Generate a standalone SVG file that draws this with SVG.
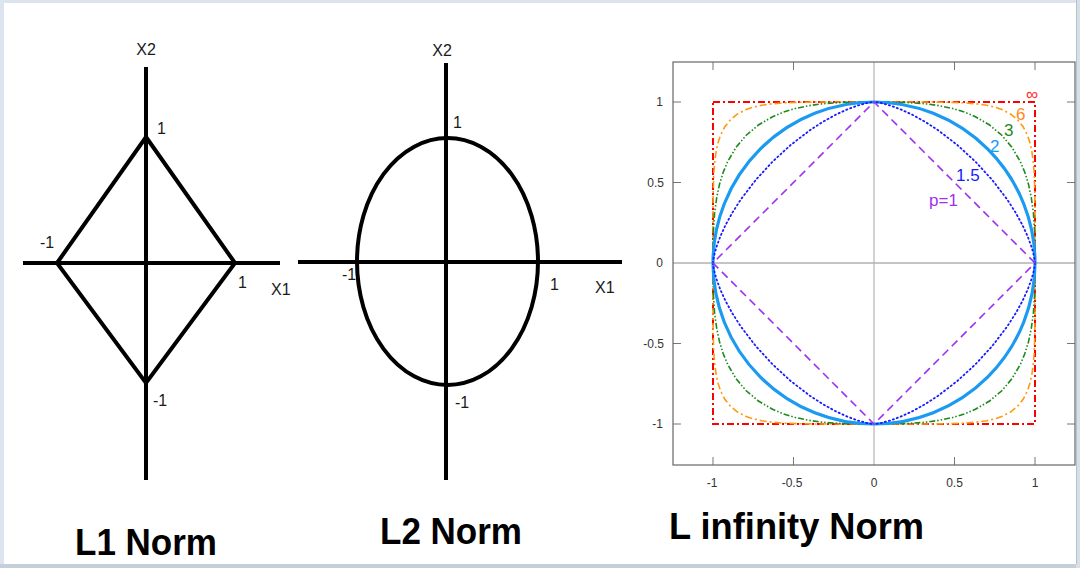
<svg xmlns="http://www.w3.org/2000/svg" xmlns:xlink="http://www.w3.org/1999/xlink" width="1080" height="568" viewBox="0 0 1080 568">
<style>
.ax{stroke:#000;stroke-width:4;fill:none}
.lbl{font-family:"Liberation Sans","DejaVu Sans",sans-serif;font-size:16px;fill:#1a1a1a}
.title{font-family:"Liberation Sans","DejaVu Sans",sans-serif;font-size:37px;font-weight:bold;fill:#000}
.tick{font-family:"Liberation Sans","DejaVu Sans",sans-serif;font-size:12px;fill:#333}
.frame{stroke:#666;stroke-width:1.2;fill:none}
.tk{stroke:#777;stroke-width:1}
.clbl{font-family:"Liberation Sans","DejaVu Sans",sans-serif;font-size:17px}
.c{fill:none}
</style>
<defs>
<polyline id="q6" class="c" points="161,0 161,-41.8 161,-52.6 160.8,-71.4 160.2,-89.8 159.1,-102.6 157.7,-112.6 155.8,-120.8 153.5,-127.8 149,-136.5 143.4,-143.4 136.5,-149 127.8,-153.5 120.8,-155.8 112.6,-157.7 102.6,-159.1 89.8,-160.2 71.4,-160.8 52.6,-161 41.8,-161 0,-161"/>
<polyline id="q3" class="c" points="161,0 160.9,-17.2 160.6,-31.7 159.4,-50.1 157.3,-65.4 154.5,-78.7 150.8,-90.7 146.3,-101.4 138,-115.6 127.8,-127.8 115.6,-138 101.4,-146.3 90.7,-150.8 78.7,-154.5 65.4,-157.3 50.1,-159.4 31.7,-160.6 17.2,-160.9 0,-161"/>
<polyline id="q15" class="c" points="161,0 160.9,-1.8 160.2,-6.2 157.7,-15.6 153.7,-26.6 148.2,-38.5 141.2,-51.1 132.9,-63.9 118.2,-83.1 101.4,-101.4 83.1,-118.2 63.9,-132.9 51.1,-141.2 38.5,-148.2 26.6,-153.7 15.6,-157.7 6.2,-160.2 1.8,-160.9 0,-161"/>
</defs>
<rect x="0" y="0" width="1080" height="568" fill="#ffffff"/>
<rect x="0" y="0" width="1080" height="3" fill="#dce4ef"/>
<rect x="0" y="0" width="4" height="568" fill="#dce4ef"/>
<rect x="0" y="564" width="1080" height="4" fill="#c6ced9"/>
<rect x="1076" y="0" width="4" height="568" fill="#d8dfe8"/>
<line x1="1076.5" y1="0" x2="1076.5" y2="564" stroke="#b8c0cb" stroke-width="1"/>

<g id="connectors"></g>

<g id="l1-norm">
<line class="ax" x1="146" y1="67" x2="146" y2="480"/>
<line class="ax" x1="23" y1="263" x2="280" y2="263"/>
<polygon class="ax" points="146,137 235,263 146,383 57,263" stroke-linejoin="miter"/>
<text class="lbl" x="146" y="55" text-anchor="middle">X2</text>
<text class="lbl" x="157" y="134">1</text>
<text class="lbl" x="40" y="248">-1</text>
<text class="lbl" x="238" y="288">1</text>
<text class="lbl" x="271" y="295">X1</text>
<text class="lbl" x="153" y="406">-1</text>
<text class="title" x="75" y="555" textLength="142" lengthAdjust="spacingAndGlyphs">L1 Norm</text>
</g>

<g id="l2-norm">
<line class="ax" x1="446" y1="63" x2="446" y2="480"/>
<line class="ax" x1="298" y1="262" x2="622" y2="262"/>
<ellipse class="ax" cx="447.5" cy="261.5" rx="90.5" ry="123.5"/>
<text class="lbl" x="442" y="56" text-anchor="middle">X2</text>
<text class="lbl" x="453" y="128">1</text>
<text class="lbl" x="342" y="280">-1</text>
<text class="lbl" x="550" y="290">1</text>
<text class="lbl" x="595" y="293">X1</text>
<text class="lbl" x="455" y="408">-1</text>
<text class="title" x="380" y="544" textLength="142" lengthAdjust="spacingAndGlyphs">L2 Norm</text>
</g>

<g id="linf-norm">
<line x1="673" y1="263" x2="1075" y2="263" stroke="#8a8a8a" stroke-width="1"/>
<line x1="874" y1="62" x2="874" y2="465" stroke="#b4b4b4" stroke-width="1.2"/>
<g class="tk">
<line x1="713" y1="62" x2="713" y2="70"/><line x1="793.5" y1="62" x2="793.5" y2="70"/><line x1="954.5" y1="62" x2="954.5" y2="70"/><line x1="1035" y1="62" x2="1035" y2="70"/>
<line x1="713" y1="465" x2="713" y2="457"/><line x1="793.5" y1="465" x2="793.5" y2="457"/><line x1="954.5" y1="465" x2="954.5" y2="457"/><line x1="1035" y1="465" x2="1035" y2="457"/>
<line x1="673" y1="102" x2="681" y2="102"/><line x1="673" y1="182.5" x2="681" y2="182.5"/><line x1="673" y1="343.5" x2="681" y2="343.5"/><line x1="673" y1="424" x2="681" y2="424"/>
<line x1="1075" y1="102" x2="1067" y2="102"/><line x1="1075" y1="182.5" x2="1067" y2="182.5"/><line x1="1075" y1="343.5" x2="1067" y2="343.5"/><line x1="1075" y1="424" x2="1067" y2="424"/>
</g>
<rect class="frame" x="673" y="62" width="402" height="403"/>
<g text-anchor="end">
<text class="tick" x="663" y="106">1</text>
<text class="tick" x="664" y="186.5">0.5</text>
<text class="tick" x="663" y="267">0</text>
<text class="tick" x="664" y="347.5">-0.5</text>
<text class="tick" x="663" y="428">-1</text>
</g>
<g text-anchor="middle">
<text class="tick" x="712" y="487">-1</text>
<text class="tick" x="792" y="487">-0.5</text>
<text class="tick" x="874" y="487">0</text>
<text class="tick" x="954.5" y="487">0.5</text>
<text class="tick" x="1035" y="487">1</text>
</g>
<g transform="translate(874,263)">
<rect x="-161" y="-161" width="322" height="322" fill="none" stroke="#ff0000" stroke-width="2" stroke-dasharray="7 3 2 3"/>
<g stroke="#ff9a10" stroke-width="1.6" stroke-dasharray="7 3 2 3">
<use xlink:href="#q6"/><use xlink:href="#q6" transform="scale(-1,1)"/><use xlink:href="#q6" transform="scale(1,-1)"/><use xlink:href="#q6" transform="scale(-1,-1)"/>
</g>
<g stroke="#1e8a1e" stroke-width="1.6" stroke-dasharray="6 2 1.5 2 1.5 2">
<use xlink:href="#q3"/><use xlink:href="#q3" transform="scale(-1,1)"/><use xlink:href="#q3" transform="scale(1,-1)"/><use xlink:href="#q3" transform="scale(-1,-1)"/>
</g>
<circle cx="0" cy="0" r="161" fill="none" stroke="#1a9af0" stroke-width="3.2"/>
<g stroke="#1a1aff" stroke-width="1.8" stroke-dasharray="1.2 3" stroke-linecap="round">
<use xlink:href="#q15"/><use xlink:href="#q15" transform="scale(-1,1)"/><use xlink:href="#q15" transform="scale(1,-1)"/><use xlink:href="#q15" transform="scale(-1,-1)"/>
</g>
<polygon points="161,0 0,-161 -161,0 0,161" fill="none" stroke="#a030f0" stroke-width="1.6" stroke-dasharray="8 5"/>
</g>
<text class="clbl" x="1026" y="100" fill="#ff2a2a" font-size="21">∞</text>
<text class="clbl" x="1016" y="120" fill="#ff8a1a">6</text>
<text class="clbl" x="1004" y="136" fill="#1e8a1e">3</text>
<text class="clbl" x="990" y="152" fill="#1a9af0">2</text>
<text class="clbl" x="956" y="181" fill="#1a1aff">1.5</text>
<text class="clbl" x="929" y="206" fill="#a030f0">p=1</text>
<text class="title" x="669" y="539" textLength="255" lengthAdjust="spacingAndGlyphs">L infinity Norm</text>
</g>
</svg>
